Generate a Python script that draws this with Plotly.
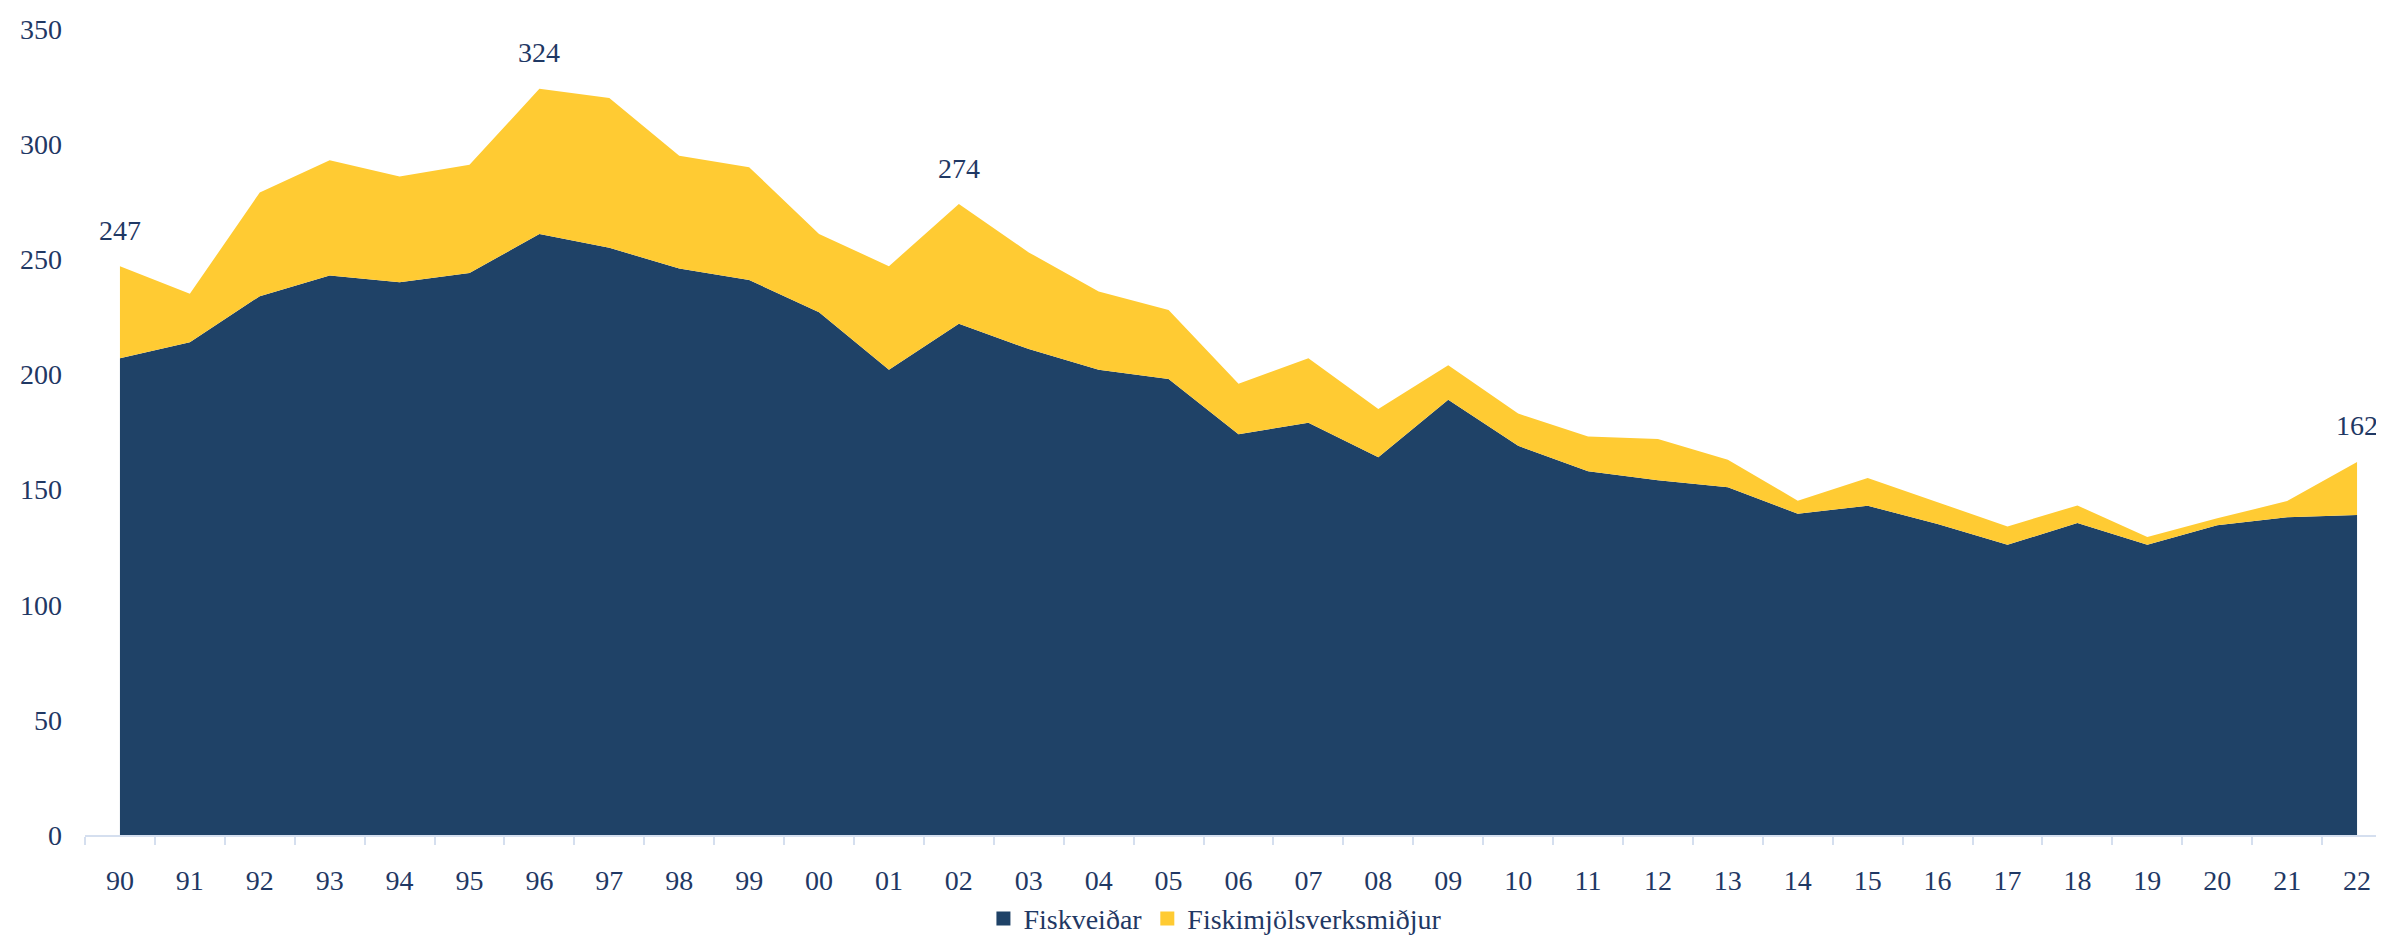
import plotly.graph_objects as go

years = ["90", "91", "92", "93", "94", "95", "96", "97", "98", "99",
         "00", "01", "02", "03", "04", "05", "06", "07", "08", "09",
         "10", "11", "12", "13", "14", "15", "16", "17", "18", "19",
         "20", "21", "22"]

fiskveidar = [207, 214, 234, 243, 240, 244, 261, 255, 246, 241,
              227, 202, 222, 211, 202, 198, 174, 179, 164, 189,
              169, 158, 154, 151, 139.5, 143, 135, 126, 135.5, 126,
              134.5, 138, 139]

fiskimjol = [40, 21, 45, 50, 46, 47, 63, 65, 49, 49,
             34, 45, 52, 42, 34, 30, 22, 28, 21, 15,
             14, 15, 18, 12, 5.7, 12, 9.5, 8, 7.6, 3.4,
             3, 7, 23]

labeled_years = ["90", "96", "02", "22"]

NAVY = "#1F4267"
YELLOW = "#FFCB33"
TEXT = "#1F3864"
AXIS = "#D5DFEF"
FONT = "Liberation Serif"
FS = 28

fig = go.Figure()
fig.add_trace(go.Scatter(x=years, y=fiskveidar, name="Fiskveiðar", stackgroup="one",
                         mode="lines", line=dict(width=0, color=NAVY), fillcolor=NAVY,
                         showlegend=False))
fig.add_trace(go.Scatter(x=years, y=fiskimjol, name="Fiskimjölsverksmiðjur", stackgroup="one",
                         mode="lines", line=dict(width=0, color=YELLOW), fillcolor=YELLOW,
                         showlegend=False))
# legend entries with square markers
fig.add_trace(go.Scatter(x=[None], y=[None], mode="markers", name="Fiskveiðar",
                         marker=dict(symbol="square", size=14, color=NAVY)))
fig.add_trace(go.Scatter(x=[None], y=[None], mode="markers", name="Fiskimjölsverksmiðjur",
                         marker=dict(symbol="square", size=14, color=YELLOW)))

totals = [a + b for a, b in zip(fiskveidar, fiskimjol)]
for y in labeled_years:
    i = years.index(y)
    fig.add_annotation(x=i, y=totals[i], text=f"{round(totals[i])}", showarrow=False,
                       yshift=36, font=dict(family=FONT, size=FS, color=TEXT))

fig.update_layout(
    width=2384, height=936,
    margin=dict(l=77, r=0, t=21, b=99),
    paper_bgcolor="white", plot_bgcolor="white",
    font=dict(family=FONT, size=FS, color=TEXT),
    showlegend=True,
    legend=dict(orientation="h", x=0.49, xanchor="center", y=-0.104, yanchor="middle",
                traceorder="normal",
                font=dict(family=FONT, size=FS, color=TEXT), itemwidth=30,
                bgcolor="rgba(0,0,0,0)"),
    xaxis=dict(type="category", range=[-0.5, len(years) - 0.5], showgrid=False,
               showline=True, linecolor=AXIS, linewidth=2, ticks="outside",
               tickson="boundaries", ticklen=8, tickcolor=AXIS, tickwidth=2,
               ticklabelstandoff=19,
               tickfont=dict(family=FONT, size=FS, color=TEXT), zeroline=False),
    yaxis=dict(range=[0, 350], dtick=50, showgrid=False, showline=False, zeroline=False,
               ticks="", ticklabelstandoff=22,
               tickfont=dict(family=FONT, size=FS, color=TEXT)),
)

fig.write_html("out.html")
